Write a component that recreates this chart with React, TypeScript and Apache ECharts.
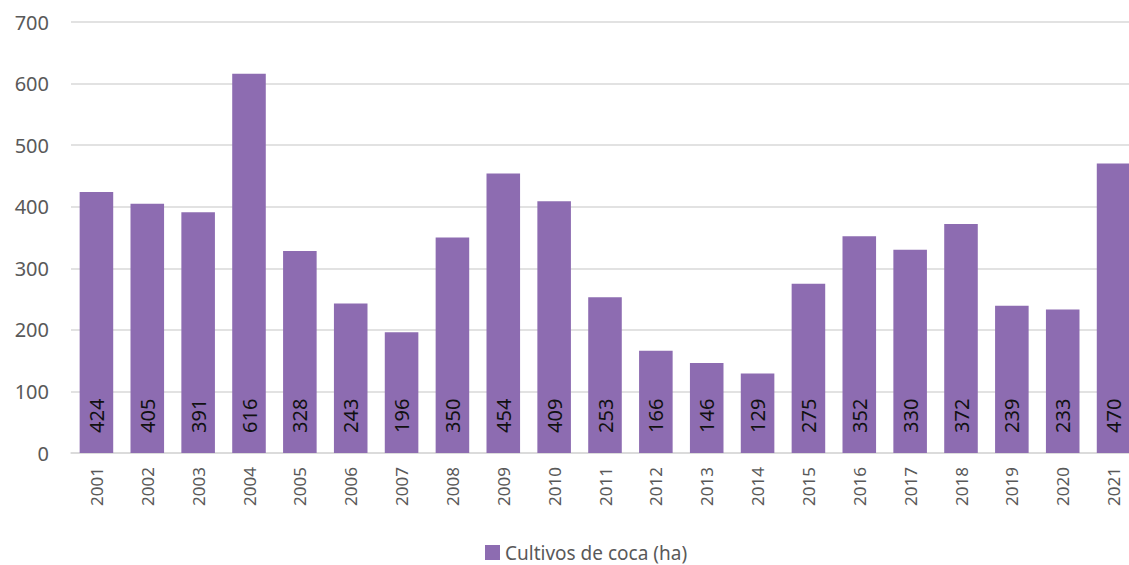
import React, { useEffect, useRef } from "react";
import * as echarts from "echarts";

const years = ["2001","2002","2003","2004","2005","2006","2007","2008","2009","2010","2011","2012","2013","2014","2015","2016","2017","2018","2019","2020","2021"];
const values = [424,405,391,616,328,243,196,350,454,409,253,166,146,129,275,352,330,372,239,233,470];
const yTicks = [0, 700, 100];
const seriesName = "Cultivos de coca (ha)";

export default function App() {
  const ref = useRef<HTMLDivElement>(null);
  useEffect(() => {
    if (!ref.current) return;
    const chart = echarts.init(ref.current, null, { renderer: "svg" });
    const font = "'Noto Sans', sans-serif";
    chart.setOption({
      animation: false,
      grid: { left: 71, width: 1068, top: 22, height: 431, containLabel: false, outerBoundsMode: "none" },
      legend: {
        top: 538,
        left: 480,
        icon: "rect",
        itemWidth: 15,
        itemHeight: 15,
        itemGap: 6,
        textStyle: { fontFamily: font, fontSize: 19, color: "#595959" },
        data: [seriesName],
      },
      xAxis: {
        type: "category",
        data: years,
        axisLine: { lineStyle: { color: "#d9d9d9", width: 1.5 } },
        axisTick: { show: false },
        axisLabel: { rotate: 90, margin: 14, fontFamily: font, fontSize: 17, color: "#595959" },
      },
      yAxis: {
        type: "value",
        min: yTicks[0],
        max: yTicks[1],
        interval: yTicks[2],
        axisLine: { show: false },
        axisTick: { show: false },
        splitLine: { lineStyle: { color: "#d9d9d9", width: 1.5 } },
        axisLabel: { margin: 22, fontFamily: font, fontSize: 20, color: "#595959" },
      },
      series: [
        {
          name: seriesName,
          type: "bar",
          data: values,
          barWidth: "66%",
          itemStyle: { color: "#8d6cb1" },
          label: {
            show: true,
            position: "insideBottom",
            rotate: 90,
            align: "left",
            verticalAlign: "middle",
            distance: 20,
            fontFamily: font,
            fontSize: 20,
            color: "#111111",
          },
        },
      ],
    });
    return () => chart.dispose();
  }, []);
  return <div ref={ref} style={{ width: 1129, height: 565, position: "absolute", left: 0, top: 0 }} />;
}
